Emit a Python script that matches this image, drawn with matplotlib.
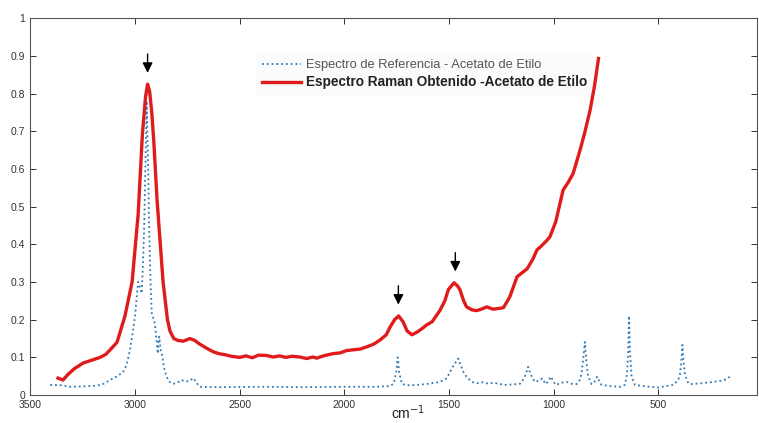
import matplotlib
matplotlib.use("Agg")
import matplotlib.pyplot as plt
import matplotlib.ticker as ticker

plt.rcParams["font.family"] = ["Liberation Sans", "DejaVu Sans"]

# Espectro Raman obtenido (cm-1, intensidad normalizada)
raman_x = [3368, 3344, 3320, 3290, 3248, 3210, 3167, 3140, 3119, 3086, 3048, 3014,
           2985, 2965, 2950, 2940, 2930, 2920, 2910, 2895, 2866, 2845, 2833, 2815, 2795,
           2770, 2738, 2715, 2690, 2660, 2627, 2600, 2570, 2540, 2500, 2470, 2440,
           2410, 2371, 2340, 2310, 2280, 2250, 2213, 2180, 2150, 2132, 2100, 2070,
           2053, 2020, 1990, 1960, 1925, 1893, 1860, 1830, 1800, 1782, 1760, 1741,
           1720, 1700, 1677, 1650, 1630, 1607, 1580, 1543, 1520, 1503, 1476, 1460,
           1448, 1430, 1416, 1390, 1368, 1345, 1320, 1290, 1260, 1240, 1210, 1175,
           1150, 1127, 1100, 1080, 1060, 1033, 1018, 990, 955, 930, 907, 874,
           850, 826, 805, 786]
raman_y = [0.045, 0.040, 0.055, 0.070, 0.085, 0.092, 0.100, 0.108, 0.120, 0.140, 0.210, 0.300,
           0.480, 0.690, 0.790, 0.825, 0.805, 0.750, 0.670, 0.520, 0.300, 0.200, 0.170, 0.150, 0.145,
           0.143, 0.150, 0.145, 0.135, 0.125, 0.115, 0.110, 0.107, 0.103, 0.100, 0.104, 0.099,
           0.106, 0.105, 0.101, 0.104, 0.100, 0.103, 0.101, 0.097, 0.101, 0.098, 0.104, 0.108,
           0.110, 0.112, 0.118, 0.120, 0.122, 0.128, 0.135, 0.146, 0.160, 0.180, 0.200, 0.210,
           0.195, 0.170, 0.160, 0.168, 0.176, 0.186, 0.195, 0.225, 0.250, 0.280, 0.298, 0.290,
           0.280, 0.250, 0.234, 0.226, 0.224, 0.228, 0.234, 0.228, 0.230, 0.232, 0.260, 0.314,
           0.325, 0.335, 0.360, 0.385, 0.395, 0.410, 0.420, 0.460, 0.544, 0.565, 0.588, 0.650,
           0.700, 0.756, 0.820, 0.893]

# Espectro de referencia
ref_x = [3405, 3350, 3310, 3250, 3181, 3150, 3119, 3085, 3057, 3040, 3024, 3010,
         3000, 2992, 2985, 2976, 2968, 2962, 2957, 2950, 2944, 2938, 2932, 2926,
         2920, 2905, 2896, 2891, 2887, 2884, 2878, 2872, 2860, 2849, 2835, 2818,
         2800, 2777, 2760, 2740, 2722, 2705, 2690, 2600, 2400, 2200, 2000, 1850,
         1782, 1765, 1752, 1745, 1738, 1725, 1702, 1650, 1600, 1543, 1510, 1487,
         1465, 1456, 1445, 1430, 1416, 1390, 1368, 1340, 1310, 1289, 1260, 1240,
         1200, 1161, 1140, 1122, 1110, 1090, 1070, 1055, 1045, 1037, 1025, 1013,
         1000, 990, 975, 960, 938, 915, 891, 875, 867, 858, 851, 844,
         835, 819, 805, 792, 780, 771, 730, 684, 660, 649, 644, 640,
         636, 628, 612, 560, 501, 460, 429, 405, 397, 390, 385, 380,
         372, 360, 350, 300, 238, 200, 174, 158]
ref_y = [0.027, 0.026, 0.022, 0.023, 0.025, 0.030, 0.040, 0.050, 0.061, 0.080, 0.120, 0.170,
         0.210, 0.260, 0.300, 0.285, 0.270, 0.350, 0.430, 0.620, 0.780, 0.620, 0.430, 0.300,
         0.217, 0.190, 0.140, 0.110, 0.150, 0.155, 0.120, 0.110, 0.070, 0.048, 0.035, 0.030,
         0.032, 0.040, 0.036, 0.037, 0.045, 0.032, 0.022, 0.021, 0.022, 0.021, 0.022, 0.022,
         0.024, 0.030, 0.060, 0.100, 0.060, 0.030, 0.026, 0.027, 0.030, 0.035, 0.045, 0.070,
         0.090, 0.097, 0.080, 0.060, 0.048, 0.035, 0.031, 0.034, 0.030, 0.033, 0.030, 0.027,
         0.028, 0.030, 0.045, 0.075, 0.055, 0.035, 0.038, 0.044, 0.035, 0.029, 0.038, 0.049,
         0.035, 0.027, 0.030, 0.033, 0.035, 0.030, 0.029, 0.040, 0.058, 0.100, 0.141, 0.090,
         0.049, 0.029, 0.035, 0.049, 0.033, 0.027, 0.024, 0.022, 0.027, 0.058, 0.120, 0.210,
         0.120, 0.049, 0.027, 0.023, 0.020, 0.024, 0.027, 0.040, 0.053, 0.090, 0.133, 0.090,
         0.053, 0.035, 0.029, 0.031, 0.035, 0.038, 0.042, 0.049]

# picos marcados con flecha (cm-1, altura del pico)
peak_x = [2940, 1742, 1470]
peak_y = [0.825, 0.210, 0.298]

fig = plt.figure(figsize=(7.59, 4.23), dpi=100)
ax = fig.add_axes([0.040, 0.066, 0.957, 0.891])

ax.plot(ref_x, ref_y, linestyle=":", color="#2f78b4", linewidth=1.3,
        label="Espectro de Referencia - Acetato de Etilo", zorder=3)
ax.plot(raman_x, raman_y, color="#e01b1b", linewidth=2.4,
        label="Espectro Raman Obtenido -Acetato de Etilo", zorder=3)

for px, py in zip(peak_x, peak_y):
    ax.annotate("", xy=(px, py + 0.03), xytext=(px, py + 0.08),
                arrowprops=dict(arrowstyle="-|>", color="black", lw=1.0,
                                mutation_scale=15, shrinkA=0, shrinkB=0))

ax.set_xlim(3500, 30)
ax.set_ylim(0, 1)
ax.set_xticks([3500, 3000, 2500, 2000, 1500, 1000, 500])
ax.set_yticks([i / 10 for i in range(11)])
ax.yaxis.set_major_formatter(ticker.FormatStrFormatter("%g"))
ax.tick_params(direction="in", top=True, right=True, labelsize=7.5,
               colors="#333333", length=4, width=0.7)
for sp in ax.spines.values():
    sp.set_color("#555555")
    sp.set_linewidth(0.8)

ax.set_xlabel("cm$^{-1}$", fontsize=10, color="#222222")
ax.xaxis.set_label_coords(0.52, -0.022)

leg = ax.legend(loc="upper left", bbox_to_anchor=(0.301, 0.925), fontsize=9.3,
                frameon=True, handlelength=3.0, borderpad=0.5, labelspacing=0.3,
                handletextpad=0.4)
leg.set_zorder(2)
leg.get_frame().set_edgecolor("none")
leg.get_frame().set_facecolor("#fafafa")
txts = leg.get_texts()
txts[0].set_color("#555555")
txts[1].set_fontweight("bold")
txts[1].set_fontsize(9.8)
txts[1].set_color("#222222")

fig.savefig("out.png", dpi=100)
